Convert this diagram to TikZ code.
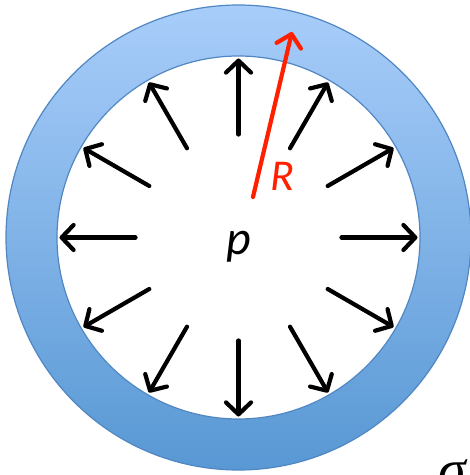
\documentclass[tikz,border=0pt]{standalone}
\usepackage{fontspec}
\newfontfamily\lblfont{Carlito}
\newfontfamily\sigfont{Liberation Serif}
\usepackage{tikz}
\usetikzlibrary{arrows.meta}
\definecolor{ringtop}{RGB}{168, 205, 250}
\definecolor{ringbot}{RGB}{88, 152, 212}
\definecolor{ringline}{RGB}{80, 135, 195}
\definecolor{radred}{RGB}{255, 32, 0}

\begin{document}
\begin{tikzpicture}[
  x=1pt, y=1pt,
  ring/.style={top color=ringtop, bottom color=ringbot},
  rim/.style={draw=ringline, line width=1.2pt},
  arr/.style={-{Straight Barb[length=12pt, width=25pt, round]}, line width=4.2pt, line cap=round},
  lbl/.style={inner sep=0pt, font=\lblfont\itshape\fontsize{44}{50}\selectfont}
]
\useasboundingbox (0,0) rectangle (470,475);
\coordinate (c) at (238.5,237.5);
\shade[ring] (c) circle (232.5);
\fill[white] (c) circle (181.5);
\draw[rim] (c) circle (232.5);
\draw[rim] (c) circle (181.5);
\foreach \i in {0,...,11} {
  \coordinate (t\i) at ([shift={(\i*30:103)}]c);
  \coordinate (h\i) at ([shift={(\i*30:179)}]c);
  \draw[arr] (t\i) -- (h\i);
}
\coordinate (rt) at (253,278);
\coordinate (rh) at (292,443);
\draw[arr, radred] (rt) -- (rh);
\node[lbl, radred] (rlbl) at (282,299) {R};
\node[lbl, anchor=base, font=\lblfont\itshape\fontsize{48}{54}\selectfont] (plbl) at (239,220) {p};
\node[anchor=north west, inner sep=0pt, font=\sigfont\itshape\fontsize{56}{60}\selectfont] (sig) at (438,16) {σ};
\end{tikzpicture}
\end{document}
